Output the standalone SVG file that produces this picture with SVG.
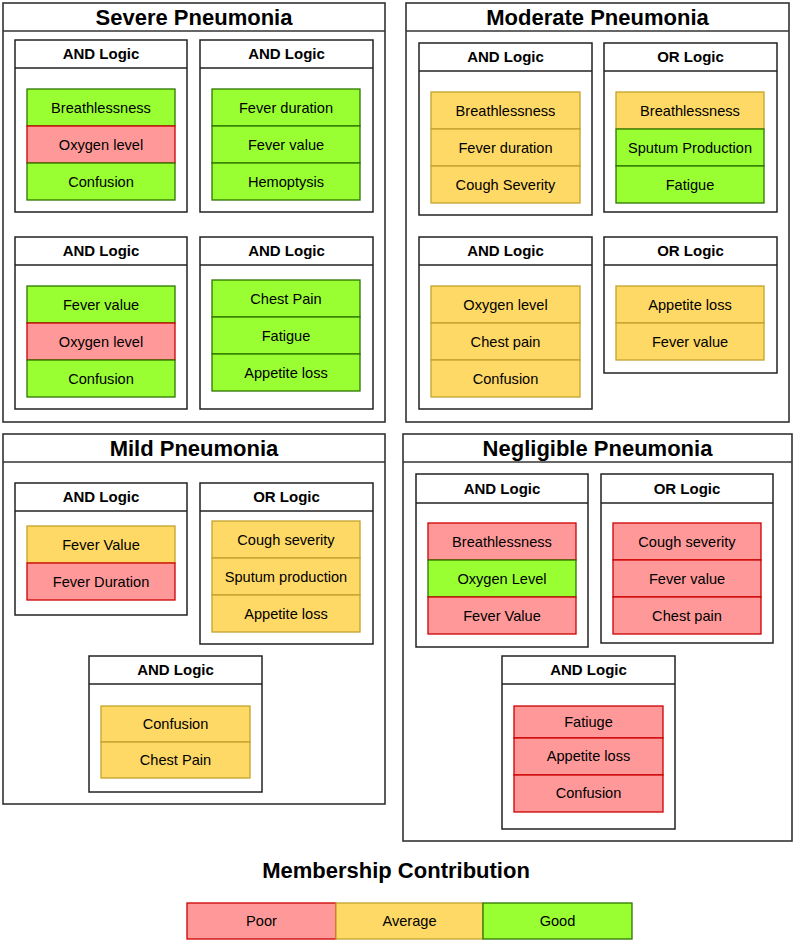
<svg xmlns="http://www.w3.org/2000/svg" width="795" height="943" viewBox="0 0 795 943">
<style>
.bg{fill:#ffffff}
.panel{fill:#ffffff;stroke:#333333;stroke-width:1.6}
.box{fill:#ffffff;stroke:#222222;stroke-width:1.5}
.sep{stroke:#222222;stroke-width:1.5}
.psep{stroke:#333333;stroke-width:1.6}
.pt{font-family:"Liberation Sans",Arial,sans-serif;font-size:22px;font-weight:bold;fill:#000;text-anchor:middle}
.ht{font-family:"Liberation Sans",Arial,sans-serif;font-size:15px;font-weight:bold;fill:#000;text-anchor:middle}
.it{font-family:"Liberation Sans",Arial,sans-serif;font-size:14.6px;fill:#000;text-anchor:middle}
.g{fill:#99FF33;stroke:#2D7600;stroke-width:1.3}
.r{fill:#FF9999;stroke:#CC0000;stroke-width:1.3}
.y{fill:#FFD966;stroke:#C4A22C;stroke-width:1.3}
</style>
<rect class="bg" x="0" y="0" width="795" height="943"/>

<!-- Severe Pneumonia -->
<g id="severe">
<rect class="panel" x="3" y="3" width="382" height="419"/>
<line class="psep" x1="3" y1="31" x2="385" y2="31"/>
<text class="pt" x="194" y="25">Severe Pneumonia</text>
<g id="severe-and-1">
<rect class="box" x="15" y="40" width="172" height="172"/>
<line class="sep" x1="15" y1="68" x2="187" y2="68"/>
<text class="ht" x="101" y="59">AND Logic</text>
<rect class="g" x="27" y="89" width="148" height="37"/><text class="it" x="101" y="112.5">Breathlessness</text>
<rect class="r" x="27" y="126" width="148" height="37"/><text class="it" x="101" y="149.5">Oxygen level</text>
<rect class="g" x="27" y="163" width="148" height="37"/><text class="it" x="101" y="186.5">Confusion</text>
</g>
<g id="severe-and-2">
<rect class="box" x="200" y="40" width="173" height="172"/>
<line class="sep" x1="200" y1="68" x2="373" y2="68"/>
<text class="ht" x="286.5" y="59">AND Logic</text>
<rect class="g" x="212" y="89" width="148" height="37"/><text class="it" x="286" y="112.5">Fever duration</text>
<rect class="g" x="212" y="126" width="148" height="37"/><text class="it" x="286" y="149.5">Fever value</text>
<rect class="g" x="212" y="163" width="148" height="37"/><text class="it" x="286" y="186.5">Hemoptysis</text>
</g>
<g id="severe-and-3">
<rect class="box" x="15" y="237" width="172" height="172"/>
<line class="sep" x1="15" y1="265" x2="187" y2="265"/>
<text class="ht" x="101" y="256">AND Logic</text>
<rect class="g" x="27" y="286" width="148" height="37"/><text class="it" x="101" y="309.5">Fever value</text>
<rect class="r" x="27" y="323" width="148" height="37"/><text class="it" x="101" y="346.5">Oxygen level</text>
<rect class="g" x="27" y="360" width="148" height="37"/><text class="it" x="101" y="383.5">Confusion</text>
</g>
<g id="severe-and-4">
<rect class="box" x="200" y="237" width="173" height="172"/>
<line class="sep" x1="200" y1="265" x2="373" y2="265"/>
<text class="ht" x="286.5" y="256">AND Logic</text>
<rect class="g" x="212" y="280" width="148" height="37"/><text class="it" x="286" y="303.5">Chest Pain</text>
<rect class="g" x="212" y="317" width="148" height="37"/><text class="it" x="286" y="340.5">Fatigue</text>
<rect class="g" x="212" y="354" width="148" height="37"/><text class="it" x="286" y="377.5">Appetite loss</text>
</g>
</g>

<!-- Moderate Pneumonia -->
<g id="moderate">
<rect class="panel" x="406" y="3" width="383" height="419"/>
<line class="psep" x1="406" y1="31" x2="789" y2="31"/>
<text class="pt" x="597.5" y="25">Moderate Pneumonia</text>
<g id="moderate-and-1">
<rect class="box" x="419" y="43" width="173" height="172"/>
<line class="sep" x1="419" y1="71" x2="592" y2="71"/>
<text class="ht" x="505.5" y="62">AND Logic</text>
<rect class="y" x="431" y="92" width="149" height="37"/><text class="it" x="505.5" y="115.5">Breathlessness</text>
<rect class="y" x="431" y="129" width="149" height="37"/><text class="it" x="505.5" y="152.5">Fever duration</text>
<rect class="y" x="431" y="166" width="149" height="37"/><text class="it" x="505.5" y="189.5">Cough Severity</text>
</g>
<g id="moderate-or-1">
<rect class="box" x="604" y="43" width="173" height="169"/>
<line class="sep" x1="604" y1="71" x2="777" y2="71"/>
<text class="ht" x="690.5" y="62">OR Logic</text>
<rect class="y" x="616" y="92" width="148" height="37"/><text class="it" x="690" y="115.5">Breathlessness</text>
<rect class="g" x="616" y="129" width="148" height="37"/><text class="it" x="690" y="152.5">Sputum Production</text>
<rect class="g" x="616" y="166" width="148" height="37"/><text class="it" x="690" y="189.5">Fatigue</text>
</g>
<g id="moderate-and-2">
<rect class="box" x="419" y="237" width="173" height="172"/>
<line class="sep" x1="419" y1="265" x2="592" y2="265"/>
<text class="ht" x="505.5" y="256">AND Logic</text>
<rect class="y" x="431" y="286" width="149" height="37"/><text class="it" x="505.5" y="309.5">Oxygen level</text>
<rect class="y" x="431" y="323" width="149" height="37"/><text class="it" x="505.5" y="346.5">Chest pain</text>
<rect class="y" x="431" y="360" width="149" height="37"/><text class="it" x="505.5" y="383.5">Confusion</text>
</g>
<g id="moderate-or-2">
<rect class="box" x="604" y="237" width="173" height="136"/>
<line class="sep" x1="604" y1="265" x2="777" y2="265"/>
<text class="ht" x="690.5" y="256">OR Logic</text>
<rect class="y" x="616" y="286" width="148" height="37"/><text class="it" x="690" y="309.5">Appetite loss</text>
<rect class="y" x="616" y="323" width="148" height="37"/><text class="it" x="690" y="346.5">Fever value</text>
</g>
</g>

<!-- Mild Pneumonia -->
<g id="mild">
<rect class="panel" x="3" y="434" width="382" height="370"/>
<line class="psep" x1="3" y1="462" x2="385" y2="462"/>
<text class="pt" x="194" y="456">Mild Pneumonia</text>
<g id="mild-and-1">
<rect class="box" x="15" y="483" width="172" height="132"/>
<line class="sep" x1="15" y1="511" x2="187" y2="511"/>
<text class="ht" x="101" y="502">AND Logic</text>
<rect class="y" x="27" y="526" width="148" height="37"/><text class="it" x="101" y="549.5">Fever Value</text>
<rect class="r" x="27" y="563" width="148" height="37"/><text class="it" x="101" y="586.5">Fever Duration</text>
</g>
<g id="mild-or-1">
<rect class="box" x="200" y="483" width="173" height="161"/>
<line class="sep" x1="200" y1="511" x2="373" y2="511"/>
<text class="ht" x="286.5" y="502">OR Logic</text>
<rect class="y" x="212" y="521" width="148" height="37"/><text class="it" x="286" y="544.5">Cough severity</text>
<rect class="y" x="212" y="558" width="148" height="37"/><text class="it" x="286" y="581.5">Sputum production</text>
<rect class="y" x="212" y="595" width="148" height="37"/><text class="it" x="286" y="618.5">Appetite loss</text>
</g>
<g id="mild-and-2">
<rect class="box" x="89" y="656" width="173" height="136"/>
<line class="sep" x1="89" y1="684" x2="262" y2="684"/>
<text class="ht" x="175.5" y="675">AND Logic</text>
<rect class="y" x="101" y="706" width="149" height="36"/><text class="it" x="175.5" y="729">Confusion</text>
<rect class="y" x="101" y="742" width="149" height="36"/><text class="it" x="175.5" y="765">Chest Pain</text>
</g>
</g>

<!-- Negligible Pneumonia -->
<g id="negligible">
<rect class="panel" x="403" y="434" width="389" height="407"/>
<line class="psep" x1="403" y1="462" x2="792" y2="462"/>
<text class="pt" x="597.5" y="456">Negligible Pneumonia</text>
<g id="negligible-and-1">
<rect class="box" x="416" y="474" width="172" height="173"/>
<line class="sep" x1="416" y1="503" x2="588" y2="503"/>
<text class="ht" x="502" y="494">AND Logic</text>
<rect class="r" x="428" y="523" width="148" height="37"/><text class="it" x="502" y="546.5">Breathlessness</text>
<rect class="g" x="428" y="560" width="148" height="37"/><text class="it" x="502" y="583.5">Oxygen Level</text>
<rect class="r" x="428" y="597" width="148" height="37"/><text class="it" x="502" y="620.5">Fever Value</text>
</g>
<g id="negligible-or-1">
<rect class="box" x="601" y="474" width="172" height="169"/>
<line class="sep" x1="601" y1="503" x2="773" y2="503"/>
<text class="ht" x="687" y="494">OR Logic</text>
<rect class="r" x="613" y="523" width="148" height="37"/><text class="it" x="687" y="546.5">Cough severity</text>
<rect class="r" x="613" y="560" width="148" height="37"/><text class="it" x="687" y="583.5">Fever value</text>
<rect class="r" x="613" y="597" width="148" height="37"/><text class="it" x="687" y="620.5">Chest pain</text>
</g>
<g id="negligible-and-2">
<rect class="box" x="502" y="656" width="173" height="173"/>
<line class="sep" x1="502" y1="684" x2="675" y2="684"/>
<text class="ht" x="588.5" y="675">AND Logic</text>
<rect class="r" x="514" y="706" width="149" height="32"/><text class="it" x="588.5" y="727">Fatiuge</text>
<rect class="r" x="514" y="738" width="149" height="37"/><text class="it" x="588.5" y="761">Appetite loss</text>
<rect class="r" x="514" y="775" width="149" height="37"/><text class="it" x="588.5" y="798">Confusion</text>
</g>
</g>

<!-- Legend -->
<g id="legend">
<text class="pt" x="396" y="878">Membership Contribution</text>
<g id="legend-poor"><rect class="r" x="187" y="903" width="149" height="36"/><text class="it" x="261.5" y="926">Poor</text></g>
<g id="legend-average"><rect class="y" x="336" y="903" width="147" height="36"/><text class="it" x="409.5" y="926">Average</text></g>
<g id="legend-good"><rect class="g" x="483" y="903" width="149" height="36"/><text class="it" x="557.5" y="926">Good</text></g>
</g>
<g id="connectors"/>
</svg>
